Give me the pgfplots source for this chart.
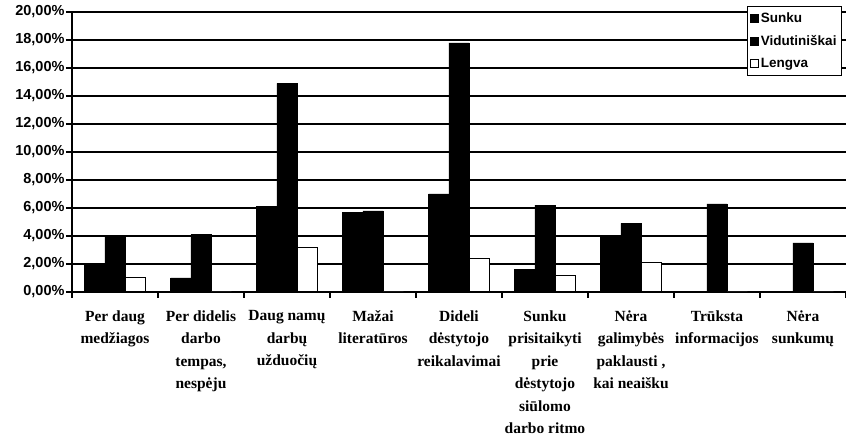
\documentclass[border=0pt]{standalone}
\usepackage{pgfplots}
\pgfplotsset{compat=1.18}
\usepackage{fontspec}
\setmainfont{Liberation Serif}
\newfontfamily\sansf{Liberation Sans}
\begin{document}
\begin{tikzpicture}
\path[use as bounding box] (-72pt,-151pt) rectangle (774pt,292pt);
\begin{axis}[
  at={(0,0)}, anchor=south west,
  scale only axis, width=774pt, height=280pt,
  xmin=-0.5, xmax=8.5, ymin=0, ymax=20,
  axis x line*=bottom, axis y line*=left,
  axis line style={black, line width=1.2pt},
  tick align=outside, major tick length=6pt,
  tick style={black, line width=1.2pt},
  ytick={0,2,...,20},
  yticklabels={{0,00\%},{2,00\%},{4,00\%},{6,00\%},{8,00\%},{10,00\%},{12,00\%},{14,00\%},{16,00\%},{18,00\%},{20,00\%}},
  yticklabel style={font=\sansf\bfseries\fontsize{14.5}{16}\selectfont, xshift=2pt},
  ymajorgrids, grid style={black, line width=1.2pt},
  xtick={-0.5,0.5,...,8.5}, xticklabels={},
  extra x ticks={0,1,2,3,4,5,6,7,8},
  extra x tick style={major tick length=0pt, grid=none},
  extra x tick labels={
    {Per daug\\medžiagos},
    {Per didelis\\darbo\\tempas,\\nespėju},
    {Daug namų\\darbų\\užduočių},
    {Mažai\\literatūros},
    {Dideli\\dėstytojo\\reikalavimai},
    {Sunku\\prisitaikyti\\prie\\dėstytojo\\siūlomo\\darbo ritmo},
    {Nėra\\galimybės\\paklausti ,\\kai neaišku},
    {Trūksta\\informacijos},
    {Nėra\\sunkumų}},
  xticklabel style={font=\bfseries\fontsize{15.5}{22.5}\selectfont, align=center, anchor=north, yshift=-15pt},
  legend style={at={(1,1)}, anchor=north east, xshift=-4pt, yshift=6pt,
    draw=black, line width=1pt, fill=white,
    font=\sansf\bfseries\fontsize{13.5}{15}\selectfont, row sep=7.5pt,
    inner xsep=3pt, inner ysep=4pt},
  legend cell align=left,
]
\addplot[ybar, bar width=0.235, bar shift=-0.235, fill=black, draw=black,
  legend image code/.code={\draw[fill=black, draw=black, line width=0.5pt] (0pt,-4pt) rectangle (8pt,4pt);}]
  coordinates {(0,2.0) (1,1.0) (2,6.1) (3,5.7) (4,7.0) (5,1.6) (6,4.0) (7,0) (8,0)};
\addlegendentry{Sunku}
\addplot[ybar, bar width=0.235, bar shift=0, fill=black, draw=black,
  legend image code/.code={\draw[fill=black, draw=black, line width=0.5pt] (0pt,-4pt) rectangle (8pt,4pt);}]
  coordinates {(0,4.0) (1,4.1) (2,14.9) (3,5.8) (4,17.8) (5,6.2) (6,4.9) (7,6.3) (8,3.5)};
\addlegendentry{Vidutiniškai}
\addplot[ybar, bar width=0.235, bar shift=0.235, fill=white, draw=black, line width=1pt,
  legend image code/.code={\draw[fill=white, draw=black, line width=0.8pt] (0pt,-4pt) rectangle (8pt,4pt);}]
  coordinates {(0,1.0) (1,0) (2,3.2) (3,0) (4,2.4) (5,1.2) (6,2.1) (7,0) (8,0)};
\addlegendentry{Lengva}
\end{axis}
\end{tikzpicture}
\end{document}
